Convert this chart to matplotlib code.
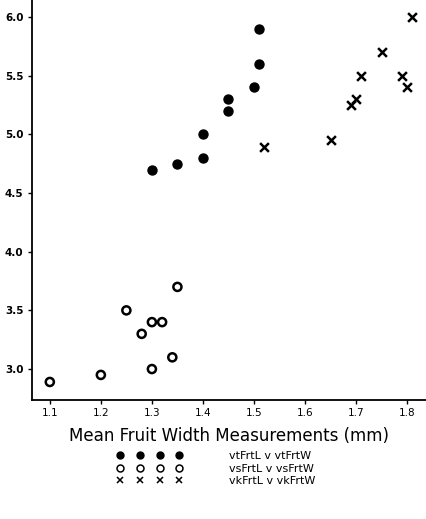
import matplotlib
matplotlib.use("Agg")
import matplotlib.pyplot as plt
from matplotlib.lines import Line2D

# Mean fruit width (x) vs mean fruit length (y), three groups
vt_width = [1.30, 1.35, 1.40, 1.40, 1.45, 1.45, 1.50, 1.51, 1.51]
vt_length = [4.70, 4.75, 4.80, 5.00, 5.20, 5.30, 5.40, 5.60, 5.90]

vs_width = [1.10, 1.20, 1.25, 1.28, 1.30, 1.32, 1.35, 1.34, 1.30]
vs_length = [2.89, 2.95, 3.50, 3.30, 3.40, 3.40, 3.70, 3.10, 3.00]

vk_width = [1.81, 1.75, 1.71, 1.79, 1.80, 1.70, 1.69, 1.65, 1.52]
vk_length = [6.00, 5.70, 5.50, 5.50, 5.40, 5.30, 5.25, 4.95, 4.89]

labels = ["vtFrtL v vtFrtW", "vsFrtL v vsFrtW", "vkFrtL v vkFrtW"]
x_ticks = [1.1, 1.2, 1.3, 1.4, 1.5, 1.6, 1.7, 1.8]
y_ticks = [3.0, 3.5, 4.0, 4.5, 5.0, 5.5, 6.0]

plt.rcParams["font.family"] = ["DejaVu Sans"]

fig = plt.figure(figsize=(4.26, 5.19), dpi=100)
ax = fig.add_axes([0.075, 0.229, 0.925, 0.771])

ax.scatter(vt_width, vt_length, s=42, marker="o", color="black", zorder=3)
ax.scatter(vs_width, vs_length, s=34, marker="o", facecolor="none",
           edgecolor="black", linewidths=1.8, zorder=3)
ax.scatter(vk_width, vk_length, s=40, marker="x", color="black",
           linewidths=1.8, zorder=3)

ax.set_xlim(1.065, 1.837)
ax.set_ylim(2.735, 6.145)
ax.set_xticks(x_ticks)
ax.set_xticklabels([f"{v:.1f}" for v in x_ticks], fontsize=7.5)
ax.set_yticks(y_ticks)
ax.set_yticklabels([f"{v:.1f}" for v in y_ticks], fontsize=7.5,
                   fontweight="bold")
ax.tick_params(axis="both", direction="out", length=3, width=1.0,
               color="black", pad=3)

for side in ("top", "right"):
    ax.spines[side].set_visible(False)
for side in ("left", "bottom"):
    ax.spines[side].set_linewidth(1.3)

ax.set_xlabel("Mean Fruit Width Measurements (mm)", fontsize=13.3,
              fontstretch="condensed", labelpad=6)

# Key: four repeated symbols per group
handles = [
    Line2D([], [], linestyle="none", marker="o", markersize=5,
           color="black"),
    Line2D([], [], linestyle="none", marker="o", markersize=5,
           markerfacecolor="none", markeredgecolor="black",
           markeredgewidth=1.1),
    Line2D([], [], linestyle="none", marker="x", markersize=5,
           color="black", markeredgewidth=1.1),
]
ax.legend(handles, labels, loc="upper left", bbox_to_anchor=(0.216, -0.128),
          ncol=1, frameon=False, numpoints=4, handlelength=5.9,
          handletextpad=4.2, labelspacing=0.2, fontsize=8,
          borderaxespad=0, borderpad=0)

fig.savefig("out.png", dpi=100)
